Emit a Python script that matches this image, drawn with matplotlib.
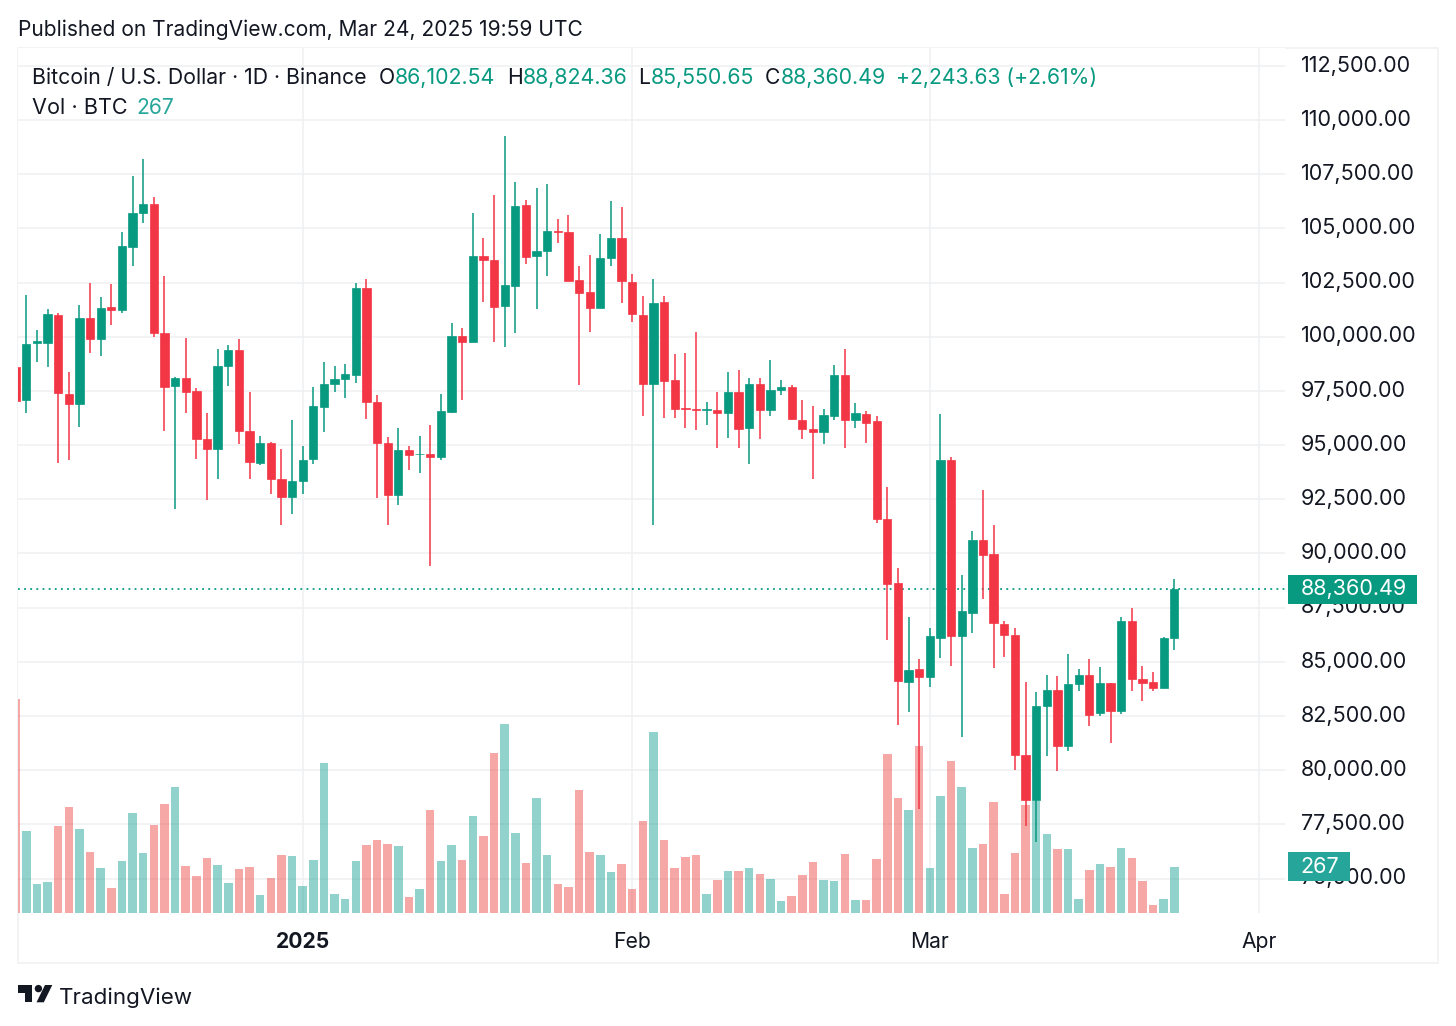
import matplotlib
matplotlib.use("Agg")
import matplotlib.pyplot as plt
import matplotlib.dates as mdates
from matplotlib.patches import Polygon, Ellipse, Rectangle
from matplotlib.transforms import ScaledTranslation
import numpy as np
import pandas as pd

W, H = 1456, 1026
GREEN = "#089981"
RED = "#F23645"
VOL_GREEN = "#26a69a"
VOL_RED = "#ef5350"
GRID = "#eff0f2"
TEXT = "#131722"

dates = pd.date_range("2024-12-05", periods=110)

opens = [98600, 97064, 99723, 99708, 100984, 97341, 96895, 100876, 99877, 101352,
         101214, 104165, 105718, 106132, 100184, 97710, 98094, 97479, 95297, 94820,
         98647, 99400, 95666, 94190, 95081, 93437, 92607, 93360, 94359, 96772,
         97833, 98048, 98232, 102229, 96987, 95112, 92699, 94789, 94574, 94574,
         94451, 96511, 100015, 99754, 103735, 103550, 101414, 102336, 106102, 103719,
         103950, 104888, 104826, 102628, 102090, 101337, 103627, 104549, 102536, 100984,
         97833, 101598, 97986, 96695, 96665, 96618, 96618, 96480, 97433, 95788,
         97833, 96618, 97541, 97679, 96173, 95758, 95589, 96342, 98217, 96157,
         96449, 96103, 91571, 88638, 84091, 84675, 84321, 86119, 94305, 86211,
         87271, 90619, 89974, 86748, 86226, 80712, 78607, 82939, 83707, 81096,
         83999, 84398, 82616, 84030, 82709, 86887, 84229, 84060, 83799, 86102.54]
highs = [103000, 101906, 100323, 101276, 101107, 98371, 101475, 102490, 101844, 102428,
         104841, 107439, 108223, 106471, 102797, 98140, 99938, 97648, 96495, 99416,
         99600, 99892, 97433, 95435, 95128, 94836, 96142, 94959, 97664, 98832,
         98632, 98755, 102490, 102674, 97295, 95389, 95773, 94943, 95404, 95942,
         97372, 100630, 100415, 105718, 104549, 106547, 109283, 107162, 106302, 106870,
         107039, 105441, 105641, 103274, 103766, 104749, 106271, 105979, 102905, 101890,
         102674, 101890, 99201, 99231, 100215, 96987, 97448, 98386, 98478, 98109,
         98109, 98909, 98017, 97787, 97064, 96788, 96665, 98678, 99447, 96957,
         96557, 96333, 93077, 89313, 87055, 85120, 86549, 96456, 94459, 88991,
         91034, 92908, 91326, 86887, 86549, 84060, 83615, 84398, 84337, 85366,
         84659, 85120, 84751, 84030, 87055, 87486, 84828, 84552, 86134, 88824.36]
lows = [92500, 96480, 98816, 98601, 94190, 94313, 95835, 99262, 99108, 100538,
        101091, 103258, 105256, 99984, 95635, 92069, 96480, 94359, 92484, 93452,
        97710, 95051, 93452, 94082, 92730, 91300, 91823, 92761, 94144, 95619,
        97448, 97172, 97863, 96203, 92561, 91300, 92223, 93867, 93714, 89410,
        94298, 96480, 97095, 99754, 101583, 99754, 99508, 100154, 103381, 101291,
        102797, 104319, 102567, 97756, 100200, 101337, 103258, 101552, 100676, 96357,
        91300, 96250, 96250, 95788, 95696, 95911, 94851, 95343, 94882, 94128,
        95297, 96357, 97295, 96157, 95281, 93422, 95035, 96157, 94851, 95788,
        95097, 91387, 85996, 82079, 82663, 78208, 83830, 85182, 84828, 81511,
        86349, 87916, 84736, 85228, 79990, 77409, 76672, 80650, 79959, 80865,
        83676, 82033, 82478, 81234, 82570, 83676, 83169, 83676, 83799, 85550.65]
closes = [97050, 99677, 99785, 101030, 97402, 96895, 100876, 99877, 101352, 101214,
          104181, 105718, 106132, 100169, 97679, 98094, 97464, 95266, 94820, 98663,
          99400, 95666, 94205, 95081, 93437, 92607, 93360, 94328, 96788, 97833,
          98048, 98294, 102229, 96987, 95097, 92699, 94789, 94544, 94605, 94451,
          96557, 100015, 99754, 103735, 103550, 101383, 102382, 106056, 103673, 103981,
          104872, 104826, 102597, 102044, 101337, 103658, 104549, 102567, 101030, 97833,
          101568, 97956, 96665, 96665, 96618, 96665, 96480, 97433, 95742, 97833,
          96618, 97556, 97694, 96188, 95742, 95604, 96373, 98217, 96157, 96465,
          96034, 91587, 88607, 84137, 84629, 84321, 86195, 94305, 86211, 87332,
          90634, 89912, 86779, 86257, 80712, 78607, 82970, 83707, 81111, 83983,
          84398, 82555, 84030, 82709, 86887, 84214, 84045, 83799, 86103, 88360.49]
volumes = [1236, 470, 165, 180, 501, 609, 486, 353, 261, 142,
           298, 578, 344, 507, 628, 724, 271, 215, 317, 276,
           175, 252, 267, 102, 200, 332, 326, 154, 303, 862,
           108, 83, 298, 394, 419, 399, 384, 94, 138, 591,
           298, 394, 303, 557, 445, 920, 1092, 459, 286, 664,
           332, 165, 148, 710, 353, 332, 234, 280, 140, 528,
           1041, 419, 261, 323, 332, 108, 190, 240, 240, 257,
           223, 194, 67, 96, 217, 292, 190, 184, 338, 73,
           73, 313, 914, 664, 591, 960, 257, 676, 874, 724,
           372, 396, 637, 108, 344, 624, 643, 455, 369, 369,
           83, 246, 280, 267, 372, 317, 184, 48, 83, 267]

price_ticks = np.arange(75000, 112501, 2500)
time_ticks = ["2025-01-01", "2025-02-01", "2025-03-01", "2025-04-01"]
time_labels = ["2025", "Feb", "Mar", "Apr"]

plt.rcParams["font.family"] = ["Inter", "DejaVu Sans"]

fig = plt.figure(figsize=(W / 100, H / 100), dpi=100, facecolor="white")


def fx(px):
    return px / W


def fy(px):
    return 1 - px / H


ax = fig.add_axes([fx(18), fy(913), fx(1285) - fx(18), fy(48) - fy(913)])

x = mdates.date2num(dates)
opens = np.array(opens, dtype=float)
closes = np.array(closes, dtype=float)
volumes = np.array(volumes, dtype=float)
up = closes >= opens
colors = [GREEN if u else RED for u in up]

# volume lives in the bottom of the pane, scaled on axes fraction
vol_max = 4985
vol_trans = ax.get_xaxis_transform()
ax.bar(x, volumes / vol_max, 0.8, transform=vol_trans, zorder=1, linewidth=0,
       color=[VOL_GREEN if u else VOL_RED for u in up], alpha=0.5)

ax.axhline(closes[-1], color=GREEN, lw=1.3, ls=(0, (1, 2.4)), zorder=1.5)

ax.vlines(x, lows, highs, colors=colors, lw=1.1, zorder=2)
ax.bar(x, np.abs(closes - opens), 0.78, bottom=np.minimum(opens, closes), color=colors,
       edgecolor=colors, linewidth=0.5, zorder=3)

ax.set_xlim(x[1] - 8.3 / 10.63, x[1] + 1258.7 / 10.63)
ax.set_ylim(73408, 113328)

ax.set_yticks(price_ticks)
ax.set_yticklabels([f"{p:,.2f}" for p in price_ticks])
ax.yaxis.tick_right()
ax.tick_params(axis="y", length=0, pad=11.5, labelsize=15.5, labelcolor=TEXT)
up_shift = ScaledTranslation(0, 2.3 / 100, fig.dpi_scale_trans)
for t in ax.get_yticklabels():
    t.set_transform(t.get_transform() + up_shift)
ax.set_xticks(mdates.date2num(pd.to_datetime(time_ticks)))
ax.set_xticklabels(time_labels)
ax.tick_params(axis="x", length=0, pad=13.5, labelsize=15.2, labelcolor=TEXT)
ax.get_xticklabels()[0].set_fontweight("bold")

ax.set_axisbelow(True)
ax.grid(True, color=GRID, lw=1.1)
for s in ax.spines.values():
    s.set_visible(False)

# outer frame of the published image
fig.add_artist(Rectangle((fx(18), fy(963)), fx(1438) - fx(18), fy(48) - fy(963),
                         transform=fig.transFigure, fill=False, ec=GRID, lw=1.1, zorder=-1))

# last price and volume tags on the scale
tag_x = 3.0 / 1267
text_x = 15.5 / 1267
tag_h = 29.0 / 865
price_frac = (closes[-1] - 73408) / (113328 - 73408)
vol_frac = volumes[-1] / vol_max
ax.add_patch(Rectangle((1 + tag_x, price_frac - tag_h / 2), 129 / 1267, tag_h, transform=ax.transAxes,
                       fc=GREEN, ec="none", zorder=5, clip_on=False))
ax.add_patch(Rectangle((1 + tag_x, vol_frac - tag_h / 2), 61.5 / 1267, tag_h, transform=ax.transAxes,
                       fc=VOL_GREEN, ec="none", zorder=5, clip_on=False))
ax.text(1 + text_x, price_frac, f"{closes[-1]:,.2f}", transform=ax.transAxes, color="white",
        fontsize=15.5, va="center", ha="left", zorder=6, clip_on=False)
ax.text(1 + text_x, vol_frac, f"{volumes[-1]:.0f}", transform=ax.transAxes, color="white",
        fontsize=15.5, va="center", ha="left", zorder=6, clip_on=False)


def label(px, py, s, color=TEXT, size=15.2, **kw):
    fig.text(fx(px), fy(py + 2), s, color=color, fontsize=size, va="center", ha="left", **kw)


label(18, 28, "Published on TradingView.com, Mar 24, 2025 19:59 UTC", size=15.1)
label(32, 76, "Bitcoin / U.S. Dollar · 1D · Binance", size=15.3)
label(379, 76, "O")
label(395, 76, f"{opens[-1]:,.2f}", GREEN, size=15.4)
label(507, 76, "H")
label(523, 76, f"{highs[-1]:,.2f}", GREEN, size=15.4)
label(638, 76, "L")
label(651, 76, f"{lows[-1]:,.2f}", GREEN, size=15.4)
label(765, 76, "C")
label(781, 76, f"{closes[-1]:,.2f}", GREEN, size=15.4)
label(896, 76, "+2,243.63 (+2.61%)", GREEN)
label(32, 106, "Vol · BTC", size=15.6)
label(136, 106, f"{volumes[-1]:.0f}", VOL_GREEN)

# TradingView logo
logo = [
    Polygon([(fx(17.7), fy(985)), (fx(31.7), fy(985)), (fx(31.7), fy(1002.3)),
             (fx(25), fy(1002.3)), (fx(25), fy(992.5)), (fx(17.7), fy(992.5))]),
    Polygon([(fx(45), fy(985)), (fx(52.3), fy(985)), (fx(43.8), fy(1002.3)), (fx(36.5), fy(1002.3))]),
    Ellipse((fx(38.4), fy(988.6)), 7.4 / W, 7.4 / H),
]
for p in logo:
    p.set(transform=fig.transFigure, fc=TEXT, ec="none")
    fig.add_artist(p)
label(59, 996, "TradingView", size=16.1)

fig.savefig("out.png", dpi=100, facecolor="white")
